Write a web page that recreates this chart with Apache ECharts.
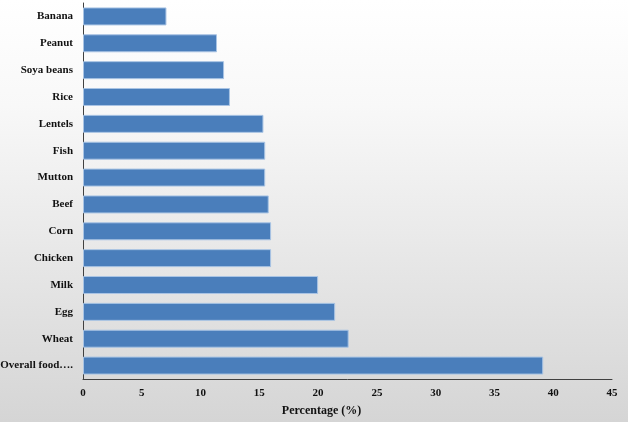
<!DOCTYPE html>
<html>
<head>
<meta charset="utf-8">
<script src="https://cdn.jsdelivr.net/npm/echarts@6/dist/echarts.min.js"></script>
<style>
html,body{margin:0;padding:0;}
#c{width:628px;height:422px;}
</style>
</head>
<body>
<div id="c"></div>
<script>
var categories = ["Banana","Peanut","Soya beans","Rice","Lentels","Fish","Mutton","Beef","Corn","Chicken","Milk","Egg","Wheat","Overall food…."];
var values = [7.1, 11.4, 12.0, 12.5, 15.35, 15.5, 15.5, 15.8, 16.0, 16.0, 20.0, 21.45, 22.6, 39.15];
var xTicks = {min: 0, max: 45, interval: 5};
var xTitle = "Percentage (%)";

var chart = echarts.init(document.getElementById('c'));
var font = {fontFamily: '"Liberation Serif", "Times New Roman", serif', fontWeight: 'bold', fontSize: 11, color: '#111'};
chart.setOption({
  backgroundColor: {
    type: 'linear', x: 0, y: 0, x2: 0, y2: 1,
    colorStops: [
      {offset: 0, color: '#ffffff'},
      {offset: 0.25, color: '#f8f8f8'},
      {offset: 1, color: '#d5d5d5'}
    ]
  },
  animation: false,
  grid: {left: 83, right: 16, top: 3, bottom: 43, containLabel: false, outerBoundsMode: 'none'},
  xAxis: {
    type: 'value',
    min: xTicks.min, max: xTicks.max, interval: xTicks.interval,
    name: xTitle,
    nameLocation: 'middle',
    nameGap: 26,
    nameTextStyle: Object.assign({}, font, {fontSize: 12, padding: [0, 52, 0, 0]}),
    axisLine: {show: true, lineStyle: {color: '#404040', width: 1}},
    axisTick: {show: false},
    splitLine: {show: false},
    axisLabel: Object.assign({}, font, {margin: 9})
  },
  yAxis: {
    type: 'category',
    data: categories,
    inverse: true,
    axisLine: {show: true, lineStyle: {color: '#404040', width: 1}},
    axisTick: {show: false},
    axisLabel: Object.assign({}, font, {margin: 10})
  },
  series: [{
    type: 'bar',
    data: values,
    barCategoryGap: '33%',
    itemStyle: {color: '#4a7ebb', borderColor: '#a9c4e4', borderWidth: 1}
  }]
});
</script>
</body>
</html>
